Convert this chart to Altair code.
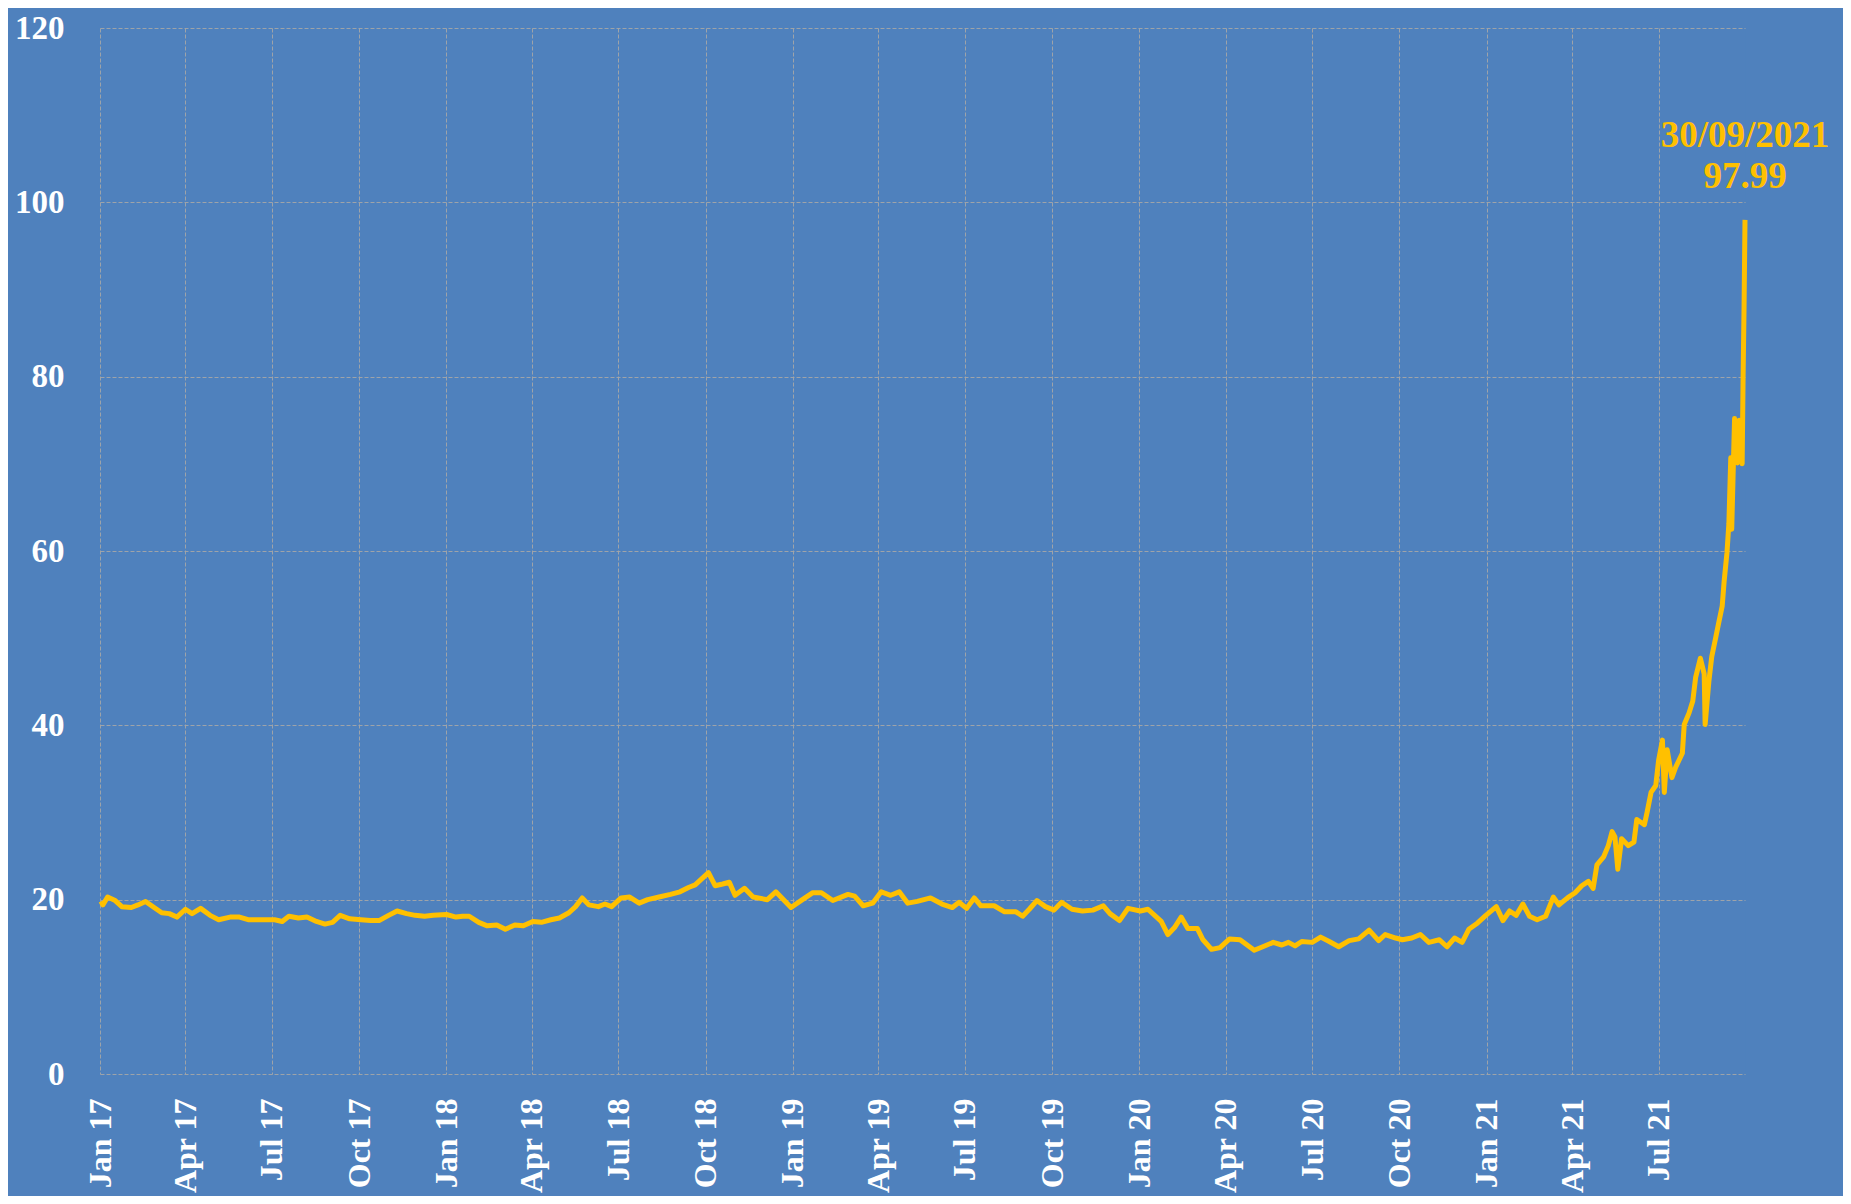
import altair as alt
import pandas as pd

dates = [
    "2017-01-02", "2017-01-04", "2017-01-09", "2017-01-17", "2017-01-24", "2017-02-03", "2017-02-10",
    "2017-02-18", "2017-02-27", "2017-03-07", "2017-03-15", "2017-03-23", "2017-04-01", "2017-04-08",
    "2017-04-17", "2017-04-27", "2017-05-06", "2017-05-18", "2017-05-28", "2017-06-06", "2017-06-20",
    "2017-07-04", "2017-07-12", "2017-07-19", "2017-07-29", "2017-08-07", "2017-08-17", "2017-08-26",
    "2017-09-03", "2017-09-11", "2017-09-21", "2017-10-03", "2017-10-13", "2017-10-22", "2017-11-01",
    "2017-11-10", "2017-11-20", "2017-11-29", "2017-12-09", "2017-12-18", "2018-01-01", "2018-01-11",
    "2018-01-18", "2018-01-25", "2018-02-04", "2018-02-13", "2018-02-23", "2018-03-04", "2018-03-14",
    "2018-03-23", "2018-04-02", "2018-04-11", "2018-04-21", "2018-04-30", "2018-05-10", "2018-05-17",
    "2018-05-24", "2018-05-31", "2018-06-10", "2018-06-17", "2018-06-24", "2018-07-04", "2018-07-13",
    "2018-07-23", "2018-08-01", "2018-08-13", "2018-08-25", "2018-09-04", "2018-09-13", "2018-09-20",
    "2018-09-26", "2018-10-04", "2018-10-11", "2018-10-19", "2018-10-26", "2018-11-01", "2018-11-11",
    "2018-11-20", "2018-12-05", "2018-12-14", "2018-12-30", "2019-01-11", "2019-01-22", "2019-01-31",
    "2019-02-12", "2019-02-28", "2019-03-07", "2019-03-16", "2019-03-26", "2019-04-04", "2019-04-14",
    "2019-04-23", "2019-05-02", "2019-05-12", "2019-05-26", "2019-06-07", "2019-06-18", "2019-06-25",
    "2019-07-03", "2019-07-11", "2019-07-18", "2019-08-01", "2019-08-12", "2019-08-24", "2019-08-31",
    "2019-09-07", "2019-09-15", "2019-09-24", "2019-10-03", "2019-10-11", "2019-10-22", "2019-11-02",
    "2019-11-13", "2019-11-24", "2019-12-01", "2019-12-11", "2019-12-20", "2020-01-02", "2020-01-10",
    "2020-01-24", "2020-01-31", "2020-02-07", "2020-02-14", "2020-02-21", "2020-03-02", "2020-03-08",
    "2020-03-17", "2020-03-26", "2020-04-05", "2020-04-16", "2020-05-01", "2020-05-10", "2020-05-21",
    "2020-05-30", "2020-06-06", "2020-06-13", "2020-06-20", "2020-07-01", "2020-07-10", "2020-07-19",
    "2020-07-29", "2020-08-09", "2020-08-19", "2020-08-30", "2020-09-09", "2020-09-16", "2020-09-27",
    "2020-10-04", "2020-10-14", "2020-10-23", "2020-11-01", "2020-11-12", "2020-11-20", "2020-11-28",
    "2020-12-06", "2020-12-13", "2020-12-22", "2020-12-31", "2021-01-11", "2021-01-18", "2021-01-25",
    "2021-02-01", "2021-02-08", "2021-02-15", "2021-02-23", "2021-03-04", "2021-03-12", "2021-03-18",
    "2021-03-27", "2021-04-04", "2021-04-11", "2021-04-18", "2021-04-23", "2021-04-27", "2021-05-04",
    "2021-05-09", "2021-05-13", "2021-05-16", "2021-05-19", "2021-05-23", "2021-05-30", "2021-06-05",
    "2021-06-08", "2021-06-16", "2021-06-19", "2021-06-23", "2021-06-28", "2021-07-01", "2021-07-05",
    "2021-07-07", "2021-07-10", "2021-07-15", "2021-07-19", "2021-07-26", "2021-07-28", "2021-08-02",
    "2021-08-06", "2021-08-09", "2021-08-14", "2021-08-18", "2021-08-19", "2021-08-23", "2021-08-26",
    "2021-08-30", "2021-09-02", "2021-09-06", "2021-09-08", "2021-09-11", "2021-09-13", "2021-09-15",
    "2021-09-16", "2021-09-19", "2021-09-22", "2021-09-24", "2021-09-27", "2021-09-28", "2021-09-29",
    "2021-09-30",
]

values = [
    19.8, 19.4, 20.3, 19.9, 19.2, 19.1, 19.4,
    19.8, 19.1, 18.5, 18.4, 18.0, 18.9, 18.4,
    19.0, 18.2, 17.7, 18.0, 18.0, 17.7, 17.7,
    17.7, 17.5, 18.1, 17.9, 18.0, 17.5, 17.2,
    17.4, 18.2, 17.8, 17.7, 17.6, 17.6, 18.2,
    18.7, 18.4, 18.2, 18.1, 18.2, 18.3, 18.0,
    18.1, 18.1, 17.4, 17.0, 17.1, 16.6, 17.1,
    17.0, 17.5, 17.4, 17.7, 17.9, 18.5, 19.2,
    20.2, 19.4, 19.2, 19.5, 19.2, 20.2, 20.3,
    19.6, 20.0, 20.3, 20.6, 20.9, 21.4, 21.7,
    22.3, 23.1, 21.6, 21.8, 22.0, 20.5, 21.3,
    20.3, 20.0, 20.9, 19.1, 20.0, 20.8, 20.8,
    19.9, 20.6, 20.4, 19.3, 19.6, 20.9, 20.5,
    20.9, 19.6, 19.8, 20.2, 19.5, 19.1, 19.7,
    19.0, 20.2, 19.3, 19.3, 18.6, 18.6, 18.1,
    18.9, 19.9, 19.2, 18.8, 19.7, 18.9, 18.7,
    18.8, 19.3, 18.4, 17.6, 19.0, 18.7, 18.9,
    17.5, 16.0, 16.8, 18.0, 16.7, 16.7, 15.4,
    14.3, 14.5, 15.5, 15.4, 14.2, 14.6, 15.1,
    14.8, 15.1, 14.7, 15.2, 15.1, 15.7, 15.2,
    14.6, 15.3, 15.5, 16.5, 15.3, 16.0, 15.6,
    15.4, 15.6, 16.0, 15.1, 15.4, 14.6, 15.6,
    15.1, 16.6, 17.3, 18.2, 19.2, 17.6, 18.7,
    18.2, 19.5, 18.1, 17.7, 18.1, 20.3, 19.4,
    20.2, 20.8, 21.6, 22.1, 21.3, 24.0, 24.9,
    26.2, 27.8, 27.2, 23.5, 27.0, 26.2, 26.6,
    29.2, 28.6, 30.1, 32.3, 33.1, 36.0, 38.3,
    32.3, 37.2, 34.0, 35.2, 36.8, 40.1, 41.4,
    42.8, 45.5, 47.7, 45.9, 40.1, 45.1, 47.9,
    50.0, 51.6, 53.7, 56.5, 59.8, 63.1, 70.7,
    62.5, 75.2, 70.1, 75.0, 70.0, 80.0, 88.0,
    97.99,
]

y_ticks = [0, 20, 40, 60, 80, 100, 120]
quarter_ticks = [(y, m) for y in range(2017, 2022) for m in (1, 4, 7, 10) if not (y == 2021 and m == 10)]

annot_date = ["2021-09-30"]
annot_value = [97.99]
annot_line1 = ["30/09/2021"]
annot_line2 = ["97.99"]

BG = "#4F81BD"
GOLD = "#FFC000"
FONT = "Liberation Serif"

df = pd.DataFrame({"date": dates, "value": values})
ann = pd.DataFrame({"date": annot_date, "value": annot_value, "l1": annot_line1, "l2": annot_line2})

x_scale = alt.Scale(
    type="utc",
    domain=[alt.DateTime(year=2017, month=1, date=1, utc=True),
            alt.DateTime(year=2021, month=9, date=30, utc=True)],
)
y_scale = alt.Scale(domain=[0, 120], nice=False)

x_axis = alt.Axis(
    values=[alt.DateTime(year=y, month=m, date=1, utc=True) for y, m in quarter_ticks],
    labelExpr="utcFormat(datum.value, '%b %y')",
    labelAngle=270, labelFont=FONT, labelFontWeight="bold", labelFontSize=32,
    labelColor="white", labelPadding=24, labelOverlap=False, labelFlush=False, labelBound=False,
    ticks=False, tickSize=0, domain=False,
    grid=True, gridColor="#A6A6A6", gridDash=[4, 2], gridWidth=1, gridOpacity=0.9,
    title=None,
)
y_axis = alt.Axis(
    values=y_ticks,
    labelFont=FONT, labelFontWeight="bold", labelFontSize=33, labelColor="white",
    labelPadding=36, ticks=False, tickSize=0, domain=False,
    grid=True, gridColor="#A6A6A6", gridDash=[4, 2], gridWidth=1, gridOpacity=0.9,
    title=None,
)

line = alt.Chart(df).mark_line(color=GOLD, strokeWidth=5, strokeJoin="round").encode(
    x=alt.X("date:T", scale=x_scale, axis=x_axis),
    y=alt.Y("value:Q", scale=y_scale, axis=y_axis),
)

t1 = alt.Chart(ann).mark_text(
    font=FONT, fontWeight="bold", fontSize=37, color=GOLD, align="center",
    baseline="alphabetic", dy=-73,
).encode(x=alt.X("date:T", scale=x_scale), y=alt.Y("value:Q", scale=y_scale), text="l1:N")

t2 = alt.Chart(ann).mark_text(
    font=FONT, fontWeight="bold", fontSize=37, color=GOLD, align="center",
    baseline="alphabetic", dy=-32,
).encode(x=alt.X("date:T", scale=x_scale), y=alt.Y("value:Q", scale=y_scale), text="l2:N")

chart = alt.layer(line, t1, t2).properties(
    width=1645, height=1046,
    autosize=alt.AutoSizeParams(type="none"),
    padding={"left": 92, "top": 20, "right": 98, "bottom": 122},
    background=BG,
).configure_view(fill=BG, strokeOpacity=0)

chart.save("out.html", embed_options={"renderer": "svg", "actions": False})
